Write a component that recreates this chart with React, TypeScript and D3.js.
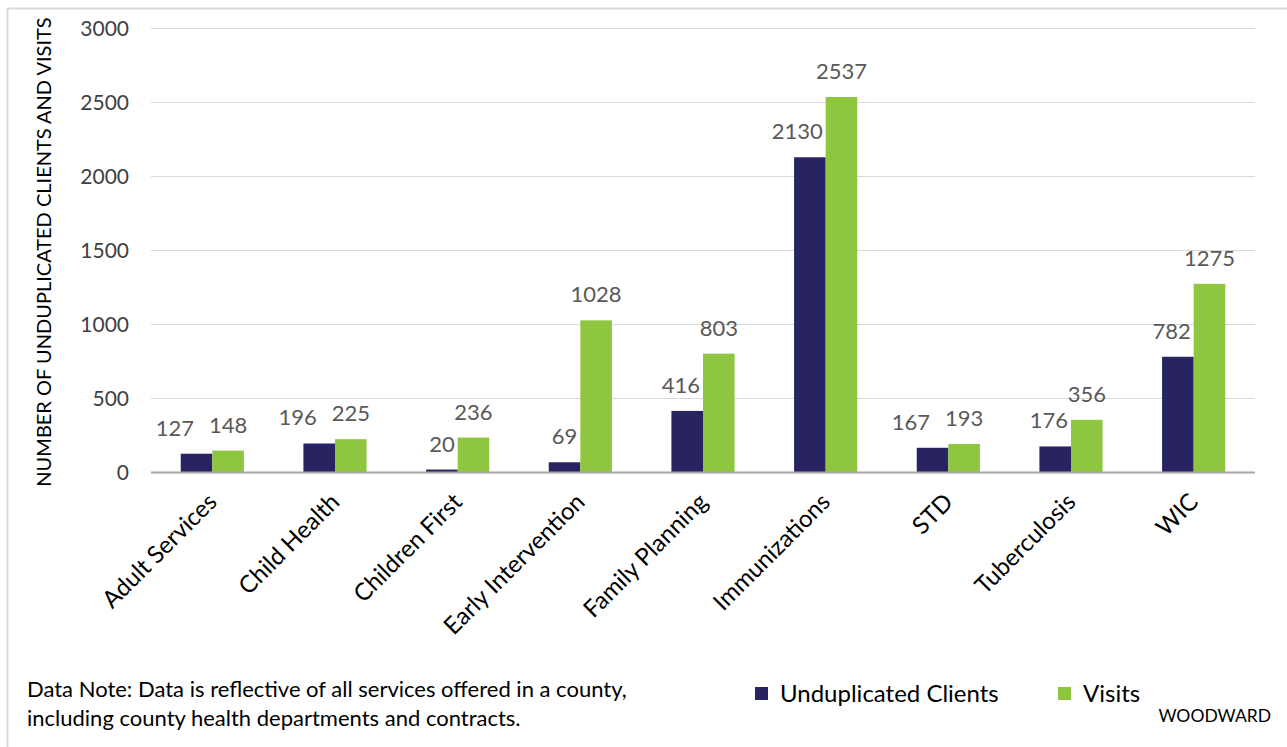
import React, { useEffect, useRef } from "react";
import * as d3 from "d3";

// chart data
const categories = [
  "Adult Services",
  "Child Health",
  "Children First",
  "Early Intervention",
  "Family Planning",
  "Immunizations",
  "STD",
  "Tuberculosis",
  "WIC",
];
const clients = [127, 196, 20, 69, 416, 2130, 167, 176, 782];
const visits = [148, 225, 236, 1028, 803, 2537, 193, 356, 1275];
const seriesNames = ["Unduplicated Clients", "Visits"];
const yTicks = [0, 500, 1000, 1500, 2000, 2500, 3000];

const NAVY = "#282461";
const GREEN = "#8fc640";
const FONT = "Lato, 'Open Sans', sans-serif";

const W = 1287;
const H = 747;

const App: React.FC = () => {
  const svgRef = useRef<SVGSVGElement | null>(null);

  useEffect(() => {
    const svg = d3.select(svgRef.current);
    svg.selectAll("*").remove();

    const left = 151;
    const right = 1255;
    const top = 28.5;
    const bottom = 472.5;
    const labelSize = 22;
    const digitW = labelSize * 0.58; // rough width of one digit

    // outer frame
    svg
      .append("rect")
      .attr("x", 7.5)
      .attr("y", 8.5)
      .attr("width", W + 10)
      .attr("height", H + 10)
      .attr("fill", "#fff")
      .attr("stroke", "#d9d9d9")
      .attr("stroke-width", 2);

    const x0 = d3.scaleBand<string>().domain(categories).range([left, right]).padding(0);
    const groupW = x0.bandwidth() * 0.515;
    const x1 = d3
      .scaleBand<string>()
      .domain(seriesNames)
      .range([0, groupW])
      .padding(0);
    const y = d3.scaleLinear().domain([0, 3000]).range([bottom, top]);

    // gridlines
    svg
      .append("g")
      .selectAll("line")
      .data(yTicks.filter((t) => t > 0))
      .join("line")
      .attr("x1", left)
      .attr("x2", right)
      .attr("y1", (d) => y(d))
      .attr("y2", (d) => y(d))
      .attr("stroke", "#d9d9d9")
      .attr("stroke-width", 1);

    // y tick labels
    svg
      .append("g")
      .selectAll("text")
      .data(yTicks)
      .join("text")
      .attr("x", 129)
      .attr("y", (d) => y(d))
      .attr("dy", "0.35em")
      .attr("text-anchor", "end")
      .attr("font-family", FONT)
      .attr("font-size", 21)
      .attr("fill", "#404040")
      .text((d) => d);

    // y title
    svg
      .append("text")
      .attr("transform", `translate(51, 252) rotate(-90)`)
      .attr("text-anchor", "middle")
      .attr("font-family", FONT)
      .attr("font-size", 20)
      .attr("fill", "#000")
      .text("NUMBER OF UNDUPLICATED CLIENTS AND VISITS");

    const rows = categories.map((c, i) => ({ cat: c, vals: [clients[i], visits[i]] }));
    const colors = [NAVY, GREEN];

    const groups = svg
      .append("g")
      .selectAll("g")
      .data(rows)
      .join("g")
      .attr("transform", (d) => `translate(${x0(d.cat)! + (x0.bandwidth() - groupW) / 2},0)`);

    groups
      .selectAll("rect")
      .data((d) => d.vals.map((v, k) => ({ v, k })))
      .join("rect")
      .attr("x", (d) => x1(seriesNames[d.k])!)
      .attr("width", x1.bandwidth())
      .attr("y", (d) => y(d.v))
      .attr("height", (d) => bottom - y(d.v))
      .attr("fill", (d) => colors[d.k]);

    // data labels (navy label nudged left when it would collide with the green one)
    const navyLabelX = (vals: number[]) => {
      const end = x1(seriesNames[0])! + x1.bandwidth() - 3;
      const greenStart =
        x1(seriesNames[1])! + x1.bandwidth() / 2 - (String(vals[1]).length * digitW) / 2;
      const close = Math.abs(y(vals[0]) - y(vals[1])) < 20;
      return close ? Math.min(end, greenStart - 15) : end;
    };

    groups.each(function (row) {
      const g = d3.select(this);
      g.append("text")
        .attr("x", navyLabelX(row.vals))
        .attr("y", y(row.vals[0]) - 18)
        .attr("text-anchor", "end")
        .attr("font-family", FONT)
        .attr("font-size", labelSize)
        .attr("fill", "#595959")
        .text(row.vals[0]);
      g.append("text")
        .attr("x", x1(seriesNames[1])! + x1.bandwidth() / 2)
        .attr("y", y(row.vals[1]) - 18)
        .attr("text-anchor", "middle")
        .attr("font-family", FONT)
        .attr("font-size", labelSize)
        .attr("fill", "#595959")
        .text(row.vals[1]);
    });

    // axis baseline
    svg
      .append("line")
      .attr("x1", left)
      .attr("x2", right)
      .attr("y1", bottom)
      .attr("y2", bottom)
      .attr("stroke", "#a6a6a6")
      .attr("stroke-width", 2);

    // category labels
    svg
      .append("g")
      .selectAll("text")
      .data(categories)
      .join("text")
      .attr(
        "transform",
        (d) => `translate(${x0(d)! + x0.bandwidth() / 2 + 6}, ${bottom + 31}) rotate(-45)`
      )
      .attr("text-anchor", "end")
      .attr("font-family", FONT)
      .attr("font-size", 24)
      .attr("fill", "#000")
      .text((d) => d);

    // note
    const note = svg
      .append("text")
      .attr("font-family", FONT)
      .attr("font-size", 22)
      .attr("fill", "#000");
    note
      .append("tspan")
      .attr("x", 27)
      .attr("y", 697)
      .text("Data Note: Data is reflective of all services offered in a county,");
    note
      .append("tspan")
      .attr("x", 27)
      .attr("y", 726)
      .text("including county health departments and contracts.");

    // legend
    const legendX = [755, 1058];
    const lg = svg
      .append("g")
      .selectAll("g")
      .data(seriesNames)
      .join("g")
      .attr("transform", (_d, i) => `translate(${legendX[i]}, 687)`);
    lg.append("rect")
      .attr("width", 13)
      .attr("height", 13)
      .attr("fill", (_d, i) => colors[i]);
    lg.append("text")
      .attr("x", 25)
      .attr("y", 15)
      .attr("font-family", FONT)
      .attr("font-size", 24)
      .attr("fill", "#000")
      .text((d) => d);

    svg
      .append("text")
      .attr("x", 1271)
      .attr("y", 722)
      .attr("text-anchor", "end")
      .attr("font-family", FONT)
      .attr("font-size", 17.5)
      .attr("fill", "#000")
      .text("WOODWARD");
  }, []);

  return (
    <svg
      ref={svgRef}
      width={W}
      height={H}
      style={{ position: "absolute", left: 0, top: 0, background: "#fff" }}
    ></svg>
  );
};

export default App;
